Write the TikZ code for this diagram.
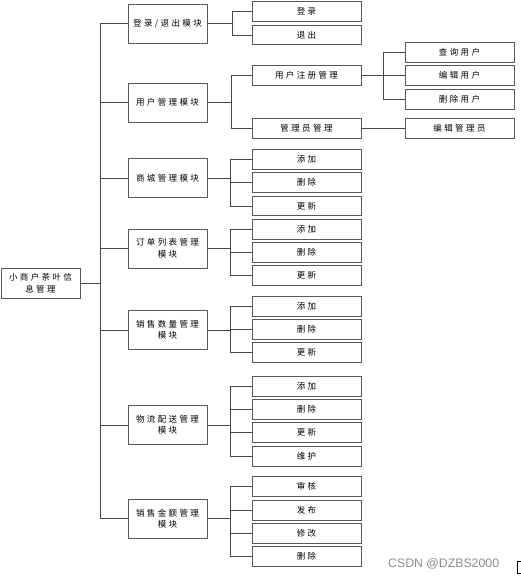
\documentclass[tikz,border=0pt]{standalone}
\usepackage{fontspec}
\newfontfamily\cjk[LetterSpace=28]{Noto Sans CJK SC}
\newfontfamily\wm{Liberation Sans}
\begin{document}
\begin{tikzpicture}[x=1pt,y=-1pt,
  box/.style={draw=black!65,line width=1pt,fill=white,inner sep=0pt,align=center,
    font=\cjk\fontsize{8.5}{11.5}\selectfont,text=black},
  mod/.style={box,minimum width=79pt,minimum height=39pt},
  sub/.style={box,minimum width=109pt,minimum height=19.5pt},
  conn/.style={draw=black!72,line width=0.9pt}]
\useasboundingbox (0,0) rectangle (520,581);
% root
\node[box,minimum width=79pt,minimum height=30pt] (root) at (40.5,283) {小商户茶叶信\\息管理};
% level 1
\node[mod] (m1) at (167.5,23.5) {登录/退出模块};
\node[mod] (m2) at (167.5,102.5) {用户管理模块};
\node[mod] (m3) at (167.5,178) {商城管理模块};
\node[mod] (m4) at (167.5,248.5) {订单列表管理\\模块};
\node[mod] (m5) at (167.5,330) {销售数量管理\\模块};
\node[mod] (m6) at (167.5,425) {物流配送管理\\模块};
\node[mod] (m7) at (167.5,518.5) {销售金额管理\\模块};
% level 2
\node[sub] (a1) at (306.5,11.5) {登录};
\node[sub] (a2) at (306.5,35) {退出};
\node[sub] (b1) at (306.5,75.5) {用户注册管理};
\node[sub] (b2) at (306.5,128.5) {管理员管理};
\node[sub] (c1) at (306.5,159.5) {添加};
\node[sub] (c2) at (306.5,182.5) {删除};
\node[sub] (c3) at (306.5,206) {更新};
\node[sub] (d1) at (306.5,229.5) {添加};
\node[sub] (d2) at (306.5,252.5) {删除};
\node[sub] (d3) at (306.5,275.5) {更新};
\node[sub] (e1) at (306.5,306.5) {添加};
\node[sub] (e2) at (306.5,329.5) {删除};
\node[sub] (e3) at (306.5,352.5) {更新};
\node[sub] (f1) at (306.5,386.5) {添加};
\node[sub] (f2) at (306.5,409.5) {删除};
\node[sub] (f3) at (306.5,432.5) {更新};
\node[sub] (f4) at (306.5,456.5) {维护};
\node[sub] (g1) at (306.5,486.5) {审核};
\node[sub] (g2) at (306.5,510.5) {发布};
\node[sub] (g3) at (306.5,533.5) {修改};
\node[sub] (g4) at (306.5,556.5) {删除};
% level 3
\node[sub] (h1) at (459.5,52.5) {查询用户};
\node[sub] (h2) at (459.5,75.5) {编辑用户};
\node[sub] (h3) at (459.5,99.5) {删除用户};
\node[sub] (h4) at (459.5,128.5) {编辑管理员};
% connectors
\foreach \m in {m1,m2,m3,m4,m5,m6,m7}
  \draw[conn] (root.east) -- ++(19.5,0) |- (\m.west);
\foreach \c in {a1,a2} \draw[conn] (m1.east) -- ++(24.5,0) |- (\c.west);
\foreach \c in {b1,b2} \draw[conn] (m2.east) -- ++(24,0) |- (\c.west);
\foreach \c in {c1,c2,c3} \draw[conn] (m3.east) -- ++(23,0) |- (\c.west);
\foreach \c in {d1,d2,d3} \draw[conn] (m4.east) -- ++(23,0) |- (\c.west);
\foreach \c in {e1,e2,e3} \draw[conn] (m5.east) -- ++(23,0) |- (\c.west);
\foreach \c in {f1,f2,f3,f4} \draw[conn] (m6.east) -- ++(23,0) |- (\c.west);
\foreach \c in {g1,g2,g3,g4} \draw[conn] (m7.east) -- ++(23,0) |- (\c.west);
\foreach \c in {h1,h2,h3} \draw[conn] (b1.east) -- ++(22,0) |- (\c.west);
\draw[conn] (b2.east) -- (h4.west);
% watermark
\node[font=\wm\fontsize{12.3}{13}\selectfont,text=black!45,anchor=west,inner sep=0pt] (wmk) at (388,564) {CSDN @DZBS2000};
\draw[black,line width=0.8pt] (525,561) -- (517.5,561) -- (517.5,573) -- (525,573);
\end{tikzpicture}
\end{document}
